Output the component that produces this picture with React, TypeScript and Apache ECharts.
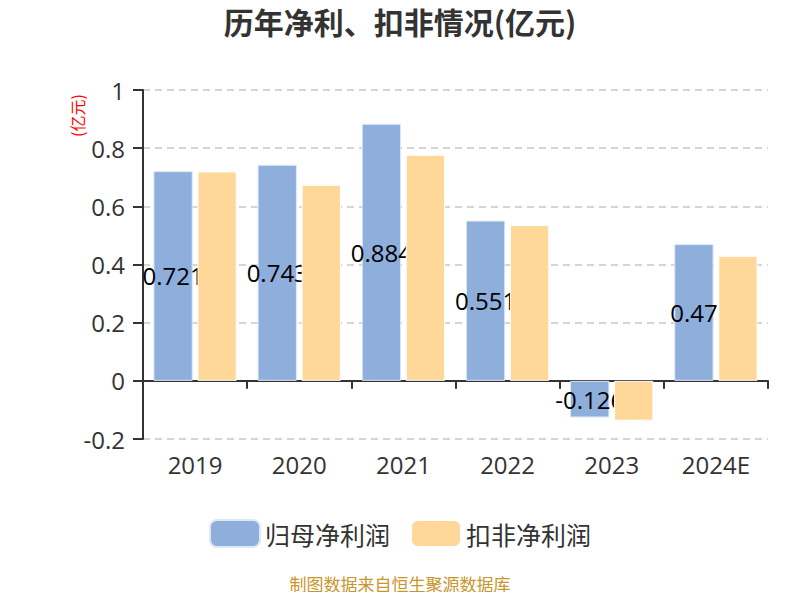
import React, { useEffect, useRef } from "react";
import * as echarts from "echarts";

const categories = ["2019", "2020", "2021", "2022", "2023", "2024E"];
const netProfit = [0.721, 0.743, 0.884, 0.551, -0.126, 0.47];
const deductedProfit = [0.72, 0.674, 0.777, 0.536, -0.137, 0.43];
const seriesNames = ["归母净利润", "扣非净利润"];

export default function App() {
  const ref = useRef<HTMLDivElement>(null);
  useEffect(() => {
    const chart = echarts.init(ref.current!, null, { renderer: "svg" });
    const font = "'Noto Sans CJK SC', 'Noto Sans', sans-serif";
    const numFont = "'Open Sans', 'Noto Sans', sans-serif";
    chart.setOption({
      animation: false,
      backgroundColor: "#fff",
      textStyle: { fontFamily: font },
      title: {
        text: "历年净利、扣非情况(亿元)",
        left: "center",
        top: 1,
        textStyle: { fontSize: 30, fontWeight: "bold", color: "#333", fontFamily: font },
      },
      graphic: [
        {
          type: "text",
          left: "center",
          top: 575,
          style: { text: "制图数据来自恒生聚源数据库", fill: "#c9962c", fontSize: 17, fontFamily: font },
        },
        {
          type: "text",
          x: 69,
          y: 137,
          rotation: Math.PI / 2,
          style: { text: "(亿元)", fill: "#ff0000", fontSize: 16, fontFamily: font },
        },
      ],
      legend: {
        bottom: 47,
        left: "center",
        itemWidth: 50,
        itemHeight: 27,
        itemGap: 20,
        textStyle: { fontSize: 25, color: "#333", fontFamily: font },
        data: seriesNames,
      },
      grid: { left: 143, right: 32, top: 90, bottom: 161 },
      xAxis: {
        type: "category",
        data: categories,
        axisLine: { onZero: true, lineStyle: { color: "#333", width: 2 } },
        axisTick: { show: true, length: 8, lineStyle: { color: "#333", width: 2 } },
        axisLabel: { fontSize: 24, color: "#333", margin: 13, fontFamily: numFont },
      },
      yAxis: {
        type: "value",
        min: -0.2,
        max: 1,
        interval: 0.2,
        axisLine: { show: true, lineStyle: { color: "#333", width: 2 } },
        axisTick: { show: true, length: 10, lineStyle: { color: "#333", width: 2 } },
        axisLabel: { fontSize: 24, color: "#333", margin: 18, fontFamily: numFont },
        splitLine: { lineStyle: { color: "#c8c8c8", type: [7, 5], width: 1.5 } },
      },
      series: [
        {
          name: seriesNames[0],
          type: "bar",
          data: netProfit,
          z: 2,
          barGap: "12%",
          barCategoryGap: "20%",
          itemStyle: { color: "#8eaedb", borderColor: "#dfe8f5", borderWidth: 1 },
          label: {
            show: true,
            position: "inside",
            color: "#000",
            fontSize: 24,
            fontFamily: numFont,
          },
        },
        {
          name: seriesNames[1],
          type: "bar",
          data: deductedProfit,
          z: 3,
          itemStyle: { color: "#ffd899", borderColor: "#fff", borderWidth: 1 },
        },
      ],
    });
    return () => chart.dispose();
  }, []);
  return <div ref={ref} style={{ width: 800, height: 600, margin: -8 }} />;
}
